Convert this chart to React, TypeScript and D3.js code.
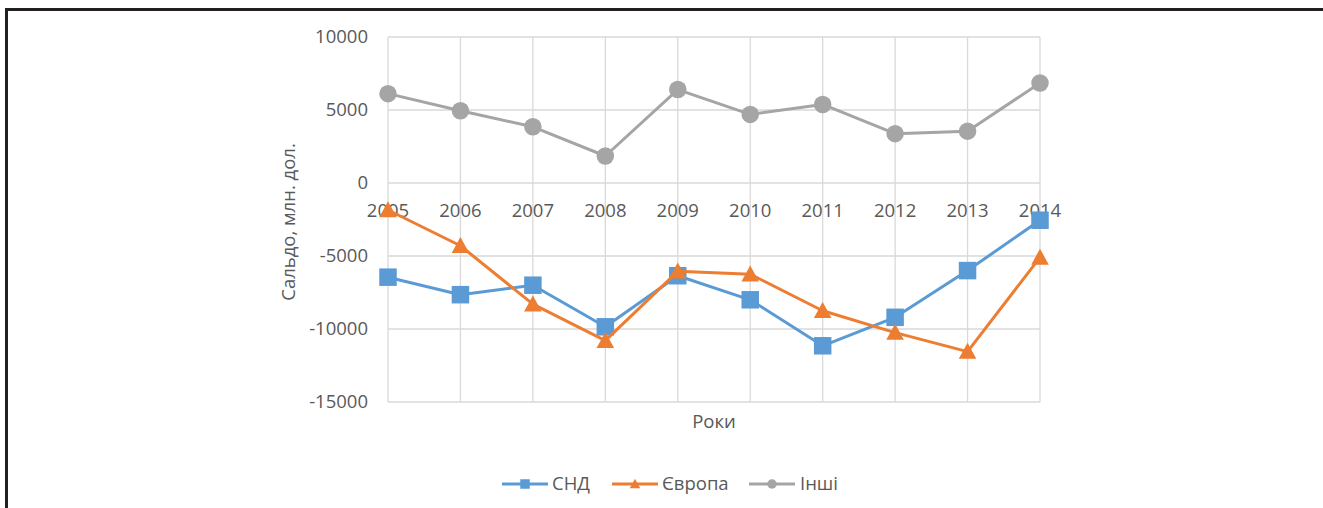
import React from "react";
import * as d3 from "d3";

const years = ["2005", "2006", "2007", "2008", "2009", "2010", "2011", "2012", "2013", "2014"];
const cis = [-6450, -7650, -7000, -9850, -6350, -8000, -11150, -9200, -6000, -2550];
const europe = [-1850, -4300, -8300, -10800, -6050, -6250, -8750, -10250, -11550, -5100];
const others = [6120, 4950, 3850, 1850, 6400, 4700, 5380, 3380, 3550, 6850];
const yTicks = [10000, 5000, 0, -5000, -10000, -15000];

const seriesNames = ["СНД", "Європа", "Інші"];
const seriesColors = ["#5B9BD5", "#ED7D31", "#A5A5A5"];
const seriesShapes = ["square", "triangle", "circle"];
const seriesData = [cis, europe, others];

const W = 1323;
const H = 508;
const FONT = "'Open Sans', 'Liberation Sans', sans-serif";
const TXT = "#595959";
const FS = 18.5;

function Marker({ shape, x, y, size, color }: { shape: string; x: number; y: number; size: number; color: string }) {
  if (shape === "square") {
    return <rect x={x - size / 2} y={y - size / 2} width={size} height={size} fill={color} />;
  }
  if (shape === "circle") {
    return <circle cx={x} cy={y} r={size / 2} fill={color} />;
  }
  const w = size * 1.1;
  const h = size;
  const p = `${x},${y - h * 0.55} ${x + w / 2},${y + h * 0.45} ${x - w / 2},${y + h * 0.45}`;
  return <polygon points={p} fill={color} />;
}

export default function App() {
  const x = d3.scalePoint<string>().domain(years).range([388, 1040]);
  const y = d3.scaleLinear().domain([-15000, 10000]).range([402, 37]);
  const line = d3
    .line<number>()
    .x((_, i) => x(years[i]) as number)
    .y((d) => y(d));

  const legendItems = [
    { lx1: 502, lx2: 548, tx: 552 },
    { lx1: 612, lx2: 658, tx: 662 },
    { lx1: 749, lx2: 795, tx: 800 },
  ];
  const legendY = 484;

  return (
    <svg width={W} height={H} style={{ position: "absolute", left: 0, top: 0, background: "#fff" }}>
      <rect x={0} y={0} width={W} height={H} fill="#fff" />
      <rect x={6.5} y={9.5} width={W + 20} height={H + 20} fill="none" stroke="#231f20" strokeWidth={3} />
      {yTicks.map((t) => (
        <line key={"h" + t} x1={388} x2={1040} y1={y(t)} y2={y(t)} stroke="#d9d9d9" strokeWidth={1.3} />
      ))}
      {years.map((yr) => (
        <line key={"v" + yr} x1={x(yr)} x2={x(yr)} y1={y(10000)} y2={y(-15000)} stroke="#d9d9d9" strokeWidth={1.3} />
      ))}
      {yTicks.map((t) => (
        <text key={"yt" + t} x={368} y={y(t)} dy="0.35em" textAnchor="end" fontFamily={FONT} fontSize={FS} fill={TXT}>
          {t}
        </text>
      ))}
      {years.map((yr) => (
        <text key={"xt" + yr} x={x(yr)} y={211} dy="0.35em" textAnchor="middle" fontFamily={FONT} fontSize={FS} fill={TXT}>
          {yr}
        </text>
      ))}
      {seriesData.map((data, si) => (
        <g key={"s" + si}>
          <path d={line(data) || ""} fill="none" stroke={seriesColors[si]} strokeWidth={3} strokeLinejoin="round" />
          {data.map((v, i) => (
            <Marker key={i} shape={seriesShapes[si]} x={x(years[i]) as number} y={y(v)} size={si === 1 ? 16 : 17.5} color={seriesColors[si]} />
          ))}
        </g>
      ))}
      <text
        transform={`translate(289, 222) rotate(-90)`}
        textAnchor="middle"
        dy="0.35em"
        fontFamily={FONT}
        fontSize={FS}
        fill={TXT}
      >
        Сальдо, млн. дол.
      </text>
      <text x={714} y={422} dy="0.35em" textAnchor="middle" fontFamily={FONT} fontSize={FS} fill={TXT}>
        Роки
      </text>
      {legendItems.map((it, i) => (
        <g key={"lg" + i}>
          <line x1={it.lx1} x2={it.lx2} y1={legendY} y2={legendY} stroke={seriesColors[i]} strokeWidth={3} />
          <Marker shape={seriesShapes[i]} x={(it.lx1 + it.lx2) / 2} y={legendY} size={9.5} color={seriesColors[i]} />
          <text x={it.tx} y={legendY} dy="0.35em" fontFamily={FONT} fontSize={FS} fill={TXT}>
            {seriesNames[i]}
          </text>
        </g>
      ))}
    </svg>
  );
}
